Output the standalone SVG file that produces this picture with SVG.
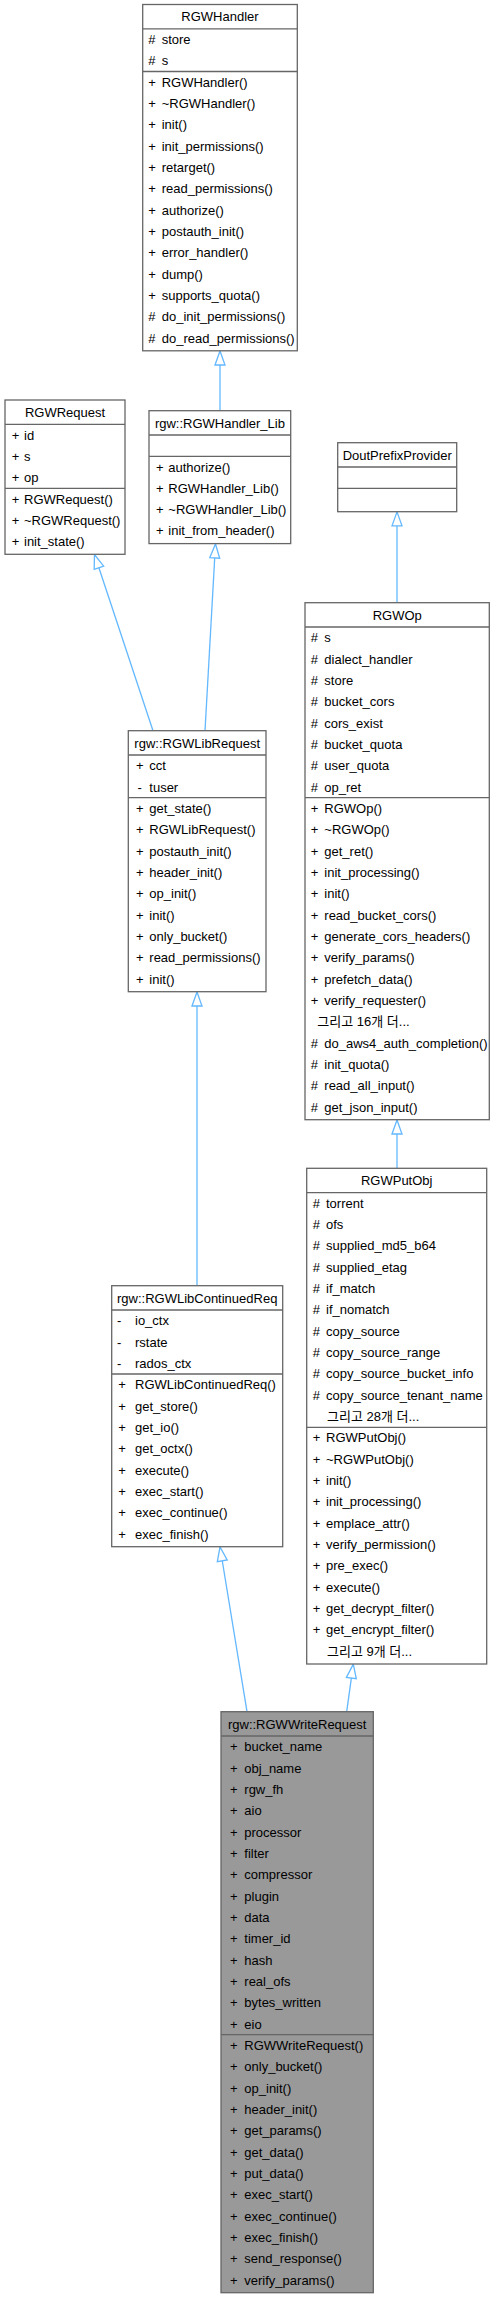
<svg xmlns="http://www.w3.org/2000/svg" width="495" height="2299" viewBox="0 0 495 2299">
<style>
text{font-family:"Liberation Sans",Arial,"Noto Sans CJK KR",sans-serif;font-size:13px;fill:#000}
.c{text-anchor:middle}
.box{fill:#fff;stroke:#666;stroke-width:1.3}
.main{fill:#999;stroke:#666;stroke-width:1.3}
.sep{stroke:#666;stroke-width:1.3}
.edge{fill:none;stroke:#63b8ff;stroke-width:1.3;marker-end:url(#inh)}
</style>
<defs>
<marker id="inh" markerWidth="16" markerHeight="12" refX="14" refY="5" orient="auto" markerUnits="userSpaceOnUse" overflow="visible"><path d="M0,0 L14,5 L0,10 Z" fill="#fff" stroke="#63b8ff" stroke-width="1.3"/></marker>
</defs>
<rect width="495" height="2299" fill="#fff"/>
<g id="edges">
<path class="edge" d="M220,410.7 L220,351"/>
<path class="edge" d="M153,730.7 L94.5,554.5"/>
<path class="edge" d="M205,730.7 L215.5,544"/>
<path class="edge" d="M397,602.7 L397,511.9"/>
<path class="edge" d="M397,1168.3 L397,1120"/>
<path class="edge" d="M197,1285.7 L197,992"/>
<path class="edge" d="M247,1711.7 L220,1547"/>
<path class="edge" d="M346.7,1711.7 L353.3,1664.2"/>
</g>
<g id="RGWHandler">
<rect class="box" x="142.7" y="4.5" width="154.6" height="346.3"/>
<line class="sep" x1="142.7" y1="28.8" x2="297.3" y2="28.8"/>
<line class="sep" x1="142.7" y1="71.5" x2="297.3" y2="71.5"/>
<text class="c" x="220" y="21.3">RGWHandler</text>
<text x="148.3" y="44"># <tspan x="161.7">store</tspan></text>
<text x="148.3" y="65.3"># <tspan x="161.7">s</tspan></text>
<text x="148.3" y="86.7">+ <tspan x="161.7">RGWHandler()</tspan></text>
<text x="148.3" y="108">+ <tspan x="161.7">~RGWHandler()</tspan></text>
<text x="148.3" y="129.3">+ <tspan x="161.7">init()</tspan></text>
<text x="148.3" y="150.6">+ <tspan x="161.7">init_permissions()</tspan></text>
<text x="148.3" y="172">+ <tspan x="161.7">retarget()</tspan></text>
<text x="148.3" y="193.3">+ <tspan x="161.7">read_permissions()</tspan></text>
<text x="148.3" y="214.6">+ <tspan x="161.7">authorize()</tspan></text>
<text x="148.3" y="236">+ <tspan x="161.7">postauth_init()</tspan></text>
<text x="148.3" y="257.3">+ <tspan x="161.7">error_handler()</tspan></text>
<text x="148.3" y="278.6">+ <tspan x="161.7">dump()</tspan></text>
<text x="148.3" y="300">+ <tspan x="161.7">supports_quota()</tspan></text>
<text x="148.3" y="321.3"># <tspan x="161.7">do_init_permissions()</tspan></text>
<text x="148.3" y="342.6"># <tspan x="161.7">do_read_permissions()</tspan></text>
</g>
<g id="RGWRequest">
<rect class="box" x="5" y="400" width="120" height="154.3"/>
<line class="sep" x1="5" y1="424.3" x2="125" y2="424.3"/>
<line class="sep" x1="5" y1="488.3" x2="125" y2="488.3"/>
<text class="c" x="65" y="416.8">RGWRequest</text>
<text x="11.7" y="439.5">+ <tspan x="24">id</tspan></text>
<text x="11.7" y="460.8">+ <tspan x="24">s</tspan></text>
<text x="11.7" y="482.1">+ <tspan x="24">op</tspan></text>
<text x="11.7" y="503.5">+ <tspan x="24">RGWRequest()</tspan></text>
<text x="11.7" y="524.8">+ <tspan x="24">~RGWRequest()</tspan></text>
<text x="11.7" y="546.1">+ <tspan x="24">init_state()</tspan></text>
</g>
<g id="RGWHandler_Lib">
<rect class="box" x="149" y="410.7" width="141.7" height="132.9"/>
<line class="sep" x1="149" y1="435" x2="290.7" y2="435"/>
<line class="sep" x1="149" y1="456.3" x2="290.7" y2="456.3"/>
<text class="c" x="219.9" y="427.5">rgw::RGWHandler_Lib</text>
<text x="156" y="471.5">+ <tspan x="168.3">authorize()</tspan></text>
<text x="156" y="492.8">+ <tspan x="168.3">RGWHandler_Lib()</tspan></text>
<text x="156" y="514.1">+ <tspan x="168.3">~RGWHandler_Lib()</tspan></text>
<text x="156" y="535.4">+ <tspan x="168.3">init_from_header()</tspan></text>
</g>
<g id="DoutPrefixProvider">
<rect class="box" x="337.7" y="442.7" width="119" height="69"/>
<line class="sep" x1="337.7" y1="467" x2="456.7" y2="467"/>
<line class="sep" x1="337.7" y1="488.3" x2="456.7" y2="488.3"/>
<text class="c" x="397.2" y="459.5">DoutPrefixProvider</text>
</g>
<g id="RGWOp">
<rect class="box" x="305" y="602.7" width="184.3" height="517"/>
<line class="sep" x1="305" y1="627" x2="489.3" y2="627"/>
<line class="sep" x1="305" y1="797.7" x2="489.3" y2="797.7"/>
<text class="c" x="397.2" y="619.5">RGWOp</text>
<text x="310.7" y="642.2"># <tspan x="324.3">s</tspan></text>
<text x="310.7" y="663.5"># <tspan x="324.3">dialect_handler</tspan></text>
<text x="310.7" y="684.8"># <tspan x="324.3">store</tspan></text>
<text x="310.7" y="706.2"># <tspan x="324.3">bucket_cors</tspan></text>
<text x="310.7" y="727.5"># <tspan x="324.3">cors_exist</tspan></text>
<text x="310.7" y="748.8"># <tspan x="324.3">bucket_quota</tspan></text>
<text x="310.7" y="770.2"># <tspan x="324.3">user_quota</tspan></text>
<text x="310.7" y="791.5"># <tspan x="324.3">op_ret</tspan></text>
<text x="310.7" y="812.8">+ <tspan x="324.3">RGWOp()</tspan></text>
<text x="310.7" y="834.2">+ <tspan x="324.3">~RGWOp()</tspan></text>
<text x="310.7" y="855.5">+ <tspan x="324.3">get_ret()</tspan></text>
<text x="310.7" y="876.8">+ <tspan x="324.3">init_processing()</tspan></text>
<text x="310.7" y="898.2">+ <tspan x="324.3">init()</tspan></text>
<text x="310.7" y="919.5">+ <tspan x="324.3">read_bucket_cors()</tspan></text>
<text x="310.7" y="940.8">+ <tspan x="324.3">generate_cors_headers()</tspan></text>
<text x="310.7" y="962.2">+ <tspan x="324.3">verify_params()</tspan></text>
<text x="310.7" y="983.5">+ <tspan x="324.3">prefetch_data()</tspan></text>
<text x="310.7" y="1004.8">+ <tspan x="324.3">verify_requester()</tspan></text>
<text x="317.3" y="1026.2">그리고 16개 더...</text>
<text x="310.7" y="1047.5"># <tspan x="324.3">do_aws4_auth_completion()</tspan></text>
<text x="310.7" y="1068.8"># <tspan x="324.3">init_quota()</tspan></text>
<text x="310.7" y="1090.2"># <tspan x="324.3">read_all_input()</tspan></text>
<text x="310.7" y="1111.5"># <tspan x="324.3">get_json_input()</tspan></text>
</g>
<g id="RGWPutObj">
<rect class="box" x="306.7" y="1168.3" width="180" height="495.7"/>
<line class="sep" x1="306.7" y1="1192.6" x2="486.7" y2="1192.6"/>
<line class="sep" x1="306.7" y1="1427.3" x2="486.7" y2="1427.3"/>
<text class="c" x="396.7" y="1185.1">RGWPutObj</text>
<text x="312.7" y="1207.8"># <tspan x="326">torrent</tspan></text>
<text x="312.7" y="1229.1"># <tspan x="326">ofs</tspan></text>
<text x="312.7" y="1250.4"># <tspan x="326">supplied_md5_b64</tspan></text>
<text x="312.7" y="1271.8"># <tspan x="326">supplied_etag</tspan></text>
<text x="312.7" y="1293.1"># <tspan x="326">if_match</tspan></text>
<text x="312.7" y="1314.4"># <tspan x="326">if_nomatch</tspan></text>
<text x="312.7" y="1335.8"># <tspan x="326">copy_source</tspan></text>
<text x="312.7" y="1357.1"># <tspan x="326">copy_source_range</tspan></text>
<text x="312.7" y="1378.4"># <tspan x="326">copy_source_bucket_info</tspan></text>
<text x="312.7" y="1399.8"># <tspan x="326">copy_source_tenant_name</tspan></text>
<text x="327" y="1421.1">그리고 28개 더...</text>
<text x="312.7" y="1442.4">+ <tspan x="326">RGWPutObj()</tspan></text>
<text x="312.7" y="1463.8">+ <tspan x="326">~RGWPutObj()</tspan></text>
<text x="312.7" y="1485.1">+ <tspan x="326">init()</tspan></text>
<text x="312.7" y="1506.4">+ <tspan x="326">init_processing()</tspan></text>
<text x="312.7" y="1527.8">+ <tspan x="326">emplace_attr()</tspan></text>
<text x="312.7" y="1549.1">+ <tspan x="326">verify_permission()</tspan></text>
<text x="312.7" y="1570.4">+ <tspan x="326">pre_exec()</tspan></text>
<text x="312.7" y="1591.8">+ <tspan x="326">execute()</tspan></text>
<text x="312.7" y="1613.1">+ <tspan x="326">get_decrypt_filter()</tspan></text>
<text x="312.7" y="1634.4">+ <tspan x="326">get_encrypt_filter()</tspan></text>
<text x="327" y="1655.8">그리고 9개 더...</text>
</g>
<g id="RGWLibRequest">
<rect class="box" x="128.3" y="730.7" width="137.7" height="261"/>
<line class="sep" x1="128.3" y1="755" x2="266" y2="755"/>
<line class="sep" x1="128.3" y1="797.7" x2="266" y2="797.7"/>
<text class="c" x="197.2" y="747.5">rgw::RGWLibRequest</text>
<text x="136" y="770.2">+ <tspan x="149.3">cct</tspan></text>
<text x="137.5" y="791.5">- <tspan x="149.3">tuser</tspan></text>
<text x="136" y="812.8">+ <tspan x="149.3">get_state()</tspan></text>
<text x="136" y="834.2">+ <tspan x="149.3">RGWLibRequest()</tspan></text>
<text x="136" y="855.5">+ <tspan x="149.3">postauth_init()</tspan></text>
<text x="136" y="876.8">+ <tspan x="149.3">header_init()</tspan></text>
<text x="136" y="898.2">+ <tspan x="149.3">op_init()</tspan></text>
<text x="136" y="919.5">+ <tspan x="149.3">init()</tspan></text>
<text x="136" y="940.8">+ <tspan x="149.3">only_bucket()</tspan></text>
<text x="136" y="962.2">+ <tspan x="149.3">read_permissions()</tspan></text>
<text x="136" y="983.5">+ <tspan x="149.3">init()</tspan></text>
</g>
<g id="RGWLibContinuedReq">
<rect class="box" x="111.7" y="1285.7" width="171" height="261"/>
<line class="sep" x1="111.7" y1="1310" x2="282.7" y2="1310"/>
<line class="sep" x1="111.7" y1="1374" x2="282.7" y2="1374"/>
<text class="c" x="197.2" y="1302.5">rgw::RGWLibContinuedReq</text>
<text x="117" y="1325.2">- <tspan x="135">io_ctx</tspan></text>
<text x="117" y="1346.5">- <tspan x="135">rstate</tspan></text>
<text x="117" y="1367.8">- <tspan x="135">rados_ctx</tspan></text>
<text x="118.3" y="1389.2">+ <tspan x="135">RGWLibContinuedReq()</tspan></text>
<text x="118.3" y="1410.5">+ <tspan x="135">get_store()</tspan></text>
<text x="118.3" y="1431.8">+ <tspan x="135">get_io()</tspan></text>
<text x="118.3" y="1453.2">+ <tspan x="135">get_octx()</tspan></text>
<text x="118.3" y="1474.5">+ <tspan x="135">execute()</tspan></text>
<text x="118.3" y="1495.8">+ <tspan x="135">exec_start()</tspan></text>
<text x="118.3" y="1517.2">+ <tspan x="135">exec_continue()</tspan></text>
<text x="118.3" y="1538.5">+ <tspan x="135">exec_finish()</tspan></text>
</g>
<g id="RGWWriteRequest">
<rect class="main" x="221" y="1711.7" width="152.3" height="581"/>
<line class="sep" x1="221" y1="1736" x2="373.3" y2="1736"/>
<line class="sep" x1="221" y1="2034.7" x2="373.3" y2="2034.7"/>
<text class="c" x="297.2" y="1728.5">rgw::RGWWriteRequest</text>
<text x="230" y="1751.2">+ <tspan x="244.3">bucket_name</tspan></text>
<text x="230" y="1772.5">+ <tspan x="244.3">obj_name</tspan></text>
<text x="230" y="1793.8">+ <tspan x="244.3">rgw_fh</tspan></text>
<text x="230" y="1815.2">+ <tspan x="244.3">aio</tspan></text>
<text x="230" y="1836.5">+ <tspan x="244.3">processor</tspan></text>
<text x="230" y="1857.8">+ <tspan x="244.3">filter</tspan></text>
<text x="230" y="1879.2">+ <tspan x="244.3">compressor</tspan></text>
<text x="230" y="1900.5">+ <tspan x="244.3">plugin</tspan></text>
<text x="230" y="1921.8">+ <tspan x="244.3">data</tspan></text>
<text x="230" y="1943.2">+ <tspan x="244.3">timer_id</tspan></text>
<text x="230" y="1964.5">+ <tspan x="244.3">hash</tspan></text>
<text x="230" y="1985.8">+ <tspan x="244.3">real_ofs</tspan></text>
<text x="230" y="2007.2">+ <tspan x="244.3">bytes_written</tspan></text>
<text x="230" y="2028.5">+ <tspan x="244.3">eio</tspan></text>
<text x="230" y="2049.8">+ <tspan x="244.3">RGWWriteRequest()</tspan></text>
<text x="230" y="2071.2">+ <tspan x="244.3">only_bucket()</tspan></text>
<text x="230" y="2092.5">+ <tspan x="244.3">op_init()</tspan></text>
<text x="230" y="2113.8">+ <tspan x="244.3">header_init()</tspan></text>
<text x="230" y="2135.2">+ <tspan x="244.3">get_params()</tspan></text>
<text x="230" y="2156.5">+ <tspan x="244.3">get_data()</tspan></text>
<text x="230" y="2177.8">+ <tspan x="244.3">put_data()</tspan></text>
<text x="230" y="2199.2">+ <tspan x="244.3">exec_start()</tspan></text>
<text x="230" y="2220.5">+ <tspan x="244.3">exec_continue()</tspan></text>
<text x="230" y="2241.8">+ <tspan x="244.3">exec_finish()</tspan></text>
<text x="230" y="2263.2">+ <tspan x="244.3">send_response()</tspan></text>
<text x="230" y="2284.5">+ <tspan x="244.3">verify_params()</tspan></text>
</g>
</svg>
